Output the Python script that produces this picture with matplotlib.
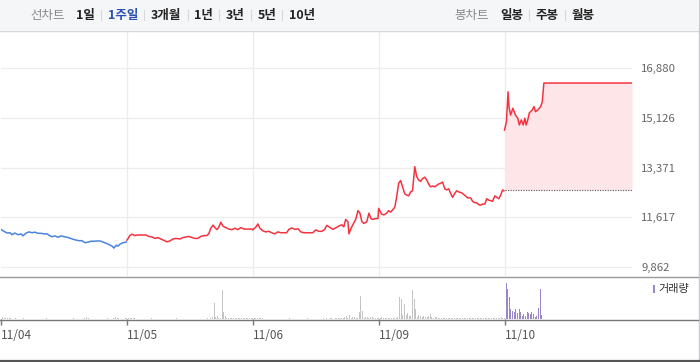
import matplotlib.pyplot as plt
from matplotlib.patches import Rectangle
from matplotlib.lines import Line2D

plt.rcParams['font.family'] = ['Noto Sans CJK KR', 'DejaVu Sans']

W, H = 700, 362

# ---- data ----
dates = ["11/04", "11/05", "11/06", "11/09", "11/10"]
day_len = 390  # minutes 09:00-15:30
prev_close = 12580
y_ticks = [9862, 11617, 13371, 15126, 16880]

# intraday price samples: minutes after open, price
t_1104 = [0, 6, 19, 28, 34, 43, 53, 62, 68, 78, 87, 96, 105, 115, 124, 133, 143, 149, 158, 167,
          177, 186, 195, 205, 214, 223, 233, 242, 251, 260, 270, 279, 288, 298, 307, 316, 326, 335,
          344, 350, 357, 363, 369, 378, 388]
p_1104 = [11190, 11140, 11060, 11070, 11000, 11060, 11000, 11030, 10960, 11060, 11100, 11070, 11090,
          11050, 11050, 11030, 11030, 10980, 10930, 10960, 10910, 10960, 10930, 10910, 10880, 10840,
          10810, 10790, 10790, 10720, 10740, 10770, 10770, 10780, 10780, 10740, 10700, 10650, 10600,
          10530, 10630, 10600, 10670, 10720, 10740]

t_1105 = [0, 3, 9, 16, 25, 34, 47, 59, 68, 78, 87, 96, 105, 115, 124, 133, 143, 152, 164, 174, 183,
          192, 202, 211, 220, 229, 239, 248, 254, 260, 267, 273, 279, 285, 291, 298, 307, 316, 326,
          335, 344, 353, 363, 372, 381, 388]
p_1105 = [10810, 10850, 10970, 11020, 10970, 10990, 10990, 10990, 10940, 10920, 10870, 10900, 10850,
          10800, 10750, 10780, 10850, 10870, 10850, 10900, 10920, 10940, 10900, 10870, 10870, 10940,
          10970, 10970, 11040, 11230, 11340, 11250, 11180, 11270, 11440, 11300, 11250, 11200, 11180,
          11230, 11180, 11250, 11200, 11200, 11200, 11200]

t_1106 = [0, 9, 16, 22, 31, 40, 50, 59, 68, 78, 87, 96, 105, 112, 121, 130, 140, 149, 158, 167, 177,
          186, 195, 205, 214, 223, 229, 239, 248, 257, 267, 276, 282, 288, 295, 298, 304, 310, 319,
          326, 332, 338, 344, 353, 360, 366, 372, 381, 388]
p_1106 = [11170, 11260, 11380, 11230, 11140, 11100, 11120, 11070, 11030, 11100, 11070, 11070, 11070,
          11190, 11240, 11190, 11210, 11100, 11070, 11070, 11070, 11070, 11170, 11120, 11120, 11190,
          11330, 11260, 11190, 11240, 11310, 11350, 11280, 11540, 11450, 11030, 11210, 11350, 11540,
          11850, 11760, 11470, 11400, 11450, 11760, 11570, 11540, 11570, 11570]

t_1109 = [0, 9, 16, 25, 31, 37, 43, 50, 56, 62, 68, 74, 81, 87, 93, 99, 105, 109, 112, 118, 124,
          130, 136, 143, 149, 155, 161, 167, 174, 180, 186, 192, 198, 205, 211, 217, 223, 229, 236,
          242, 248, 257, 267, 276, 285, 291, 298, 304, 310, 316, 322, 329, 335, 341, 347, 353, 360,
          366, 372, 378, 384, 388]
p_1109 = [11930, 11730, 11700, 11760, 11850, 11800, 11870, 11970, 12340, 12810, 12910, 12690, 12440,
          12400, 12370, 12510, 12550, 13050, 13400, 13050, 12930, 12880, 12980, 13030, 12930, 12790,
          12690, 12720, 12690, 12740, 12790, 12810, 12860, 12620, 12580, 12620, 12460, 12320, 12460,
          12550, 12510, 12480, 12390, 12300, 12300, 12180, 12130, 12130, 12060, 12040, 12080, 12080,
          12270, 12220, 12200, 12180, 12370, 12320, 12270, 12390, 12580, 12550]

t_1110 = [0, 6, 11, 14, 19, 26, 34, 41, 46, 52, 58, 63, 67, 72, 77, 86, 91, 96, 103, 112, 117, 122]
p_1110 = [14690, 14990, 16040, 15500, 15220, 15460, 15220, 15110, 14870, 15050, 14870, 15110, 14870,
          15050, 15300, 15400, 15520, 15340, 15400, 15520, 15690, 16350]

# volume per 5-minute slot
v_1104 = [20, 15, 12, 15, 10, 8, 5, 5, 8, 5, 5, 3, 5, 8, 5, 3, 5, 5, 3, 5,
          5, 3, 3, 5, 5, 3, 5, 8, 5, 3, 5, 3, 5, 5, 3, 5, 3, 5, 5, 3,
          5, 3, 3, 5, 8, 5, 3, 5, 5, 3, 5, 8, 20, 12, 5, 3, 5, 5, 3, 5,
          3, 5, 3, 5, 5, 8, 5, 3, 5, 12, 20, 12, 8, 5, 5, 5, 8, 10]
v_1105 = [15, 12, 15, 12, 10, 5, 5, 3, 5, 5, 3, 5, 3, 5, 8, 5, 3, 5, 5, 3,
          5, 5, 3, 5, 5, 3, 5, 5, 3, 5, 8, 5, 3, 5, 5, 3, 5, 5, 3, 5,
          5, 3, 5, 5, 3, 5, 5, 3, 5, 8, 5, 8, 25, 163, 20, 30, 15, 10, 287, 70,
          30, 15, 12, 10, 12, 10, 8, 10, 12, 8, 10, 12, 8, 10, 12, 10, 8, 10]
v_1106 = [12, 15, 10, 12, 8, 10, 5, 5, 3, 5, 5, 3, 5, 5, 3, 5, 5, 3, 5, 5,
          3, 5, 8, 5, 3, 5, 5, 3, 5, 5, 3, 5, 5, 8, 5, 3, 5, 5, 3, 5,
          5, 3, 5, 10, 5, 8, 5, 10, 8, 5, 10, 12, 15, 10, 12, 15, 17, 27, 15, 40,
          12, 23, 20, 10, 12, 70, 230, 77, 15, 20, 23, 10, 20, 20, 12, 12, 10, 10]
v_1109 = [15, 17, 12, 15, 10, 12, 10, 8, 12, 10, 15, 20, 223, 197, 40, 150, 37, 57, 30, 30,
          290, 197, 97, 20, 37, 30, 20, 30, 25, 20, 30, 50, 20, 15, 25, 20, 15, 12, 10, 15,
          12, 10, 15, 12, 10, 12, 15, 10, 12, 10, 15, 12, 10, 12, 10, 15, 12, 10, 12, 15,
          10, 12, 10, 15, 12, 10, 12, 15, 10, 12, 15, 12, 10, 15, 12, 20, 15, 12]
v_1110 = [357, 297, 223, 97, 83, 70, 97, 57, 97, 70, 30, 50, 30, 70, 57, 50, 70, 50, 23, 30,
          110, 303, 43]

price_times = [t_1104, t_1105, t_1106, t_1109, t_1110]
price_vals = [p_1104, p_1105, p_1106, p_1109, p_1110]
volumes = [v_1104, v_1105, v_1106, v_1109, v_1110]

# ---- layout ----
fig = plt.figure(figsize=(W / 100, H / 100), dpi=100)
x_end = 5 * day_len + 5

def fx(px):
    return px / W

def fy(py):
    return 1 - py / H

# toolbar
fig.patches.append(Rectangle((0, fy(30)), fx(698), 30 / H, transform=fig.transFigure,
                             facecolor='#f5f6f8', edgecolor='none', zorder=0))
fig.lines.append(Line2D([0, fx(698)], [fy(30.5), fy(30.5)], transform=fig.transFigure,
                        color='#d6d8dc', lw=1))
fig.lines.append(Line2D([fx(698.5), fx(698.5)], [fy(0), fy(359)], transform=fig.transFigure,
                        color='#c9cbcf', lw=1))
fig.lines.append(Line2D([0, 1], [fy(360.5), fy(360.5)], transform=fig.transFigure,
                        color='#555555', lw=1.6))

menu = [("선차트", 48, '#888888', 'normal'), ("1일", 85, '#222222', 'bold'),
        ("1주일", 123, '#2c4fb3', 'bold'), ("3개월", 166, '#222222', 'bold'),
        ("1년", 203, '#222222', 'bold'), ("3년", 235, '#222222', 'bold'),
        ("5년", 267, '#222222', 'bold'), ("10년", 302, '#222222', 'bold'),
        ("봉차트", 472, '#888888', 'normal'), ("일봉", 512, '#222222', 'bold'),
        ("주봉", 547, '#222222', 'bold'), ("월봉", 583, '#222222', 'bold')]
for label, cx, col, wt in menu:
    fig.text(fx(cx), fy(15), label, ha='center', va='center', fontsize=9, color=col, fontweight=wt)
for sx in [101, 144, 188, 219, 251, 282, 529, 565]:
    fig.lines.append(Line2D([fx(sx), fx(sx)], [fy(10), fy(20)], transform=fig.transFigure,
                            color='#d8d8d8', lw=0.8))

# separators of panels
fig.lines.append(Line2D([0, fx(698)], [fy(276.5), fy(276.5)], transform=fig.transFigure,
                        color='#9a9a9a', lw=1))
fig.lines.append(Line2D([0, fx(698)], [fy(319.5), fy(319.5)], transform=fig.transFigure,
                        color='#777777', lw=1))

# ---- price panel ----
ppx = (y_ticks[-1] - y_ticks[0]) / (267 - 68)
ax = fig.add_axes([fx(1), fy(276), fx(631), 245 / H])
ax.set_xlim(0, x_end)
ax.set_ylim(y_ticks[0] - (276 - 267) * ppx, y_ticks[-1] + (68 - 31) * ppx)
for s in ax.spines.values():
    s.set_visible(False)
ax.set_xticks([])
ax.set_yticks(y_ticks)
ax.set_yticklabels([f"{v:,}" for v in y_ticks])
ax.tick_params(axis='y', left=False, right=False, labelleft=False, labelright=True,
               length=0, pad=6.5, labelsize=8.2, labelcolor='#666666')
for v in y_ticks:
    ax.axhline(v, color='#ececec', lw=0.9, zorder=0)
for d in range(1, 5):
    ax.axvline(d * day_len, color='#ececec', lw=0.9, zorder=0)

ax.plot(t_1104, p_1104, color='#4a84e0', lw=1.1, zorder=3)
red_x, red_y = [], []
for d in range(1, 4):
    red_x += [d * day_len + t for t in price_times[d]]
    red_y += price_vals[d]
ax.plot(red_x, red_y, color='#f5323f', lw=1.1, zorder=3)

last_x = [4 * day_len + t for t in t_1110] + [x_end]
last_y = p_1110 + [p_1110[-1]]
ax.fill_between(last_x, prev_close, last_y, color='#fde5e8', lw=0, zorder=1)
ax.plot(last_x, last_y, color='#f5323f', lw=1.1, zorder=3)
ax.hlines(prev_close, 4 * day_len, x_end, colors='#555555', linestyles=(0, (1, 1.3)), lw=0.8, zorder=2)

# ---- volume panel ----
axv = fig.add_axes([fx(1), fy(319), fx(631), 42 / H])
axv.set_xlim(0, x_end)
axv.set_ylim(0, 420)
axv.patch.set_alpha(0)
for s in axv.spines.values():
    s.set_visible(False)
for d in range(5):
    xs = [d * day_len + (i + 1) * 5 for i in range(len(volumes[d]))]
    col = '#9a86c8' if d == 4 else '#c4c4c4'
    axv.bar(xs, volumes[d], width=3.1, color=col, lw=0, antialiased=False)
axv.set_yticks([])
axv.set_xticks([d * day_len for d in range(5)])
axv.set_xticklabels(dates, ha='left')
axv.tick_params(axis='x', length=4, width=1, color='#777777', pad=3, labelsize=8.5,
                labelcolor='#555555')

fig.patches.append(Rectangle((fx(652.5), fy(293)), fx(2.8), 8 / H, transform=fig.transFigure,
                             facecolor='#9a86c8', edgecolor='none'))
fig.text(fx(658), fy(289), "거래량", ha='left', va='center', fontsize=8, color='#333333')

fig.savefig('out.png', dpi=100)
